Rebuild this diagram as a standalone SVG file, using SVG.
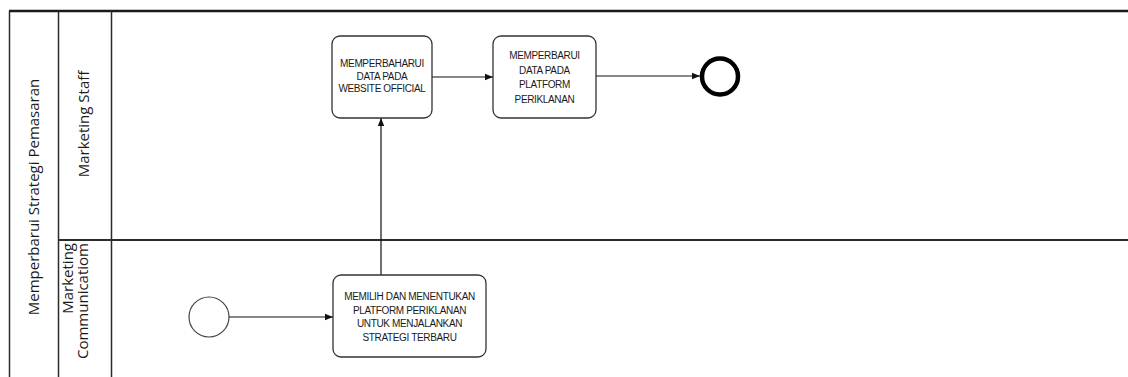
<svg xmlns="http://www.w3.org/2000/svg" width="1128" height="377" viewBox="0 0 1128 377">
<style>
.pool{fill:none;stroke:#2b2b2b;stroke-width:1.5}
.lbl{font-family:"Open Sans","Noto Sans",sans-serif;font-size:15px;fill:#1a1a1a}
.task rect{fill:#fff;stroke:#333;stroke-width:1.3}
.task text{font-family:"Liberation Sans",Arial,sans-serif;font-size:10px;fill:#1a1a1a;text-anchor:middle;letter-spacing:-0.35px}
.edge{fill:none;stroke:#111;stroke-width:1.2;marker-end:url(#arr)}
</style>
<defs>
<marker id="arr" viewBox="0 0 8 8" refX="8" refY="4" markerWidth="8" markerHeight="8" markerUnits="userSpaceOnUse" orient="auto">
<path d="M0,0.8 L8,4 L0,7.2 Z" fill="#111"/>
</marker>
</defs>
<rect width="1128" height="377" fill="#fff"/>
<g id="pool">
<line x1="9" y1="11" x2="1128" y2="11" stroke="#1a1a1a" stroke-width="2.5"/>
<line class="pool" x1="9.5" y1="11" x2="9.5" y2="377"/>
<line class="pool" x1="58.5" y1="11" x2="58.5" y2="377"/>
<line class="pool" x1="111.5" y1="11" x2="111.5" y2="377"/>
<line x1="58" y1="240" x2="1128" y2="240" stroke="#2b2b2b" stroke-width="1.8"/>
<text class="lbl" text-anchor="middle" transform="translate(39,197) rotate(-90)">Memperbarui Strategi Pemasaran</text>
</g>
<g id="lane-staff">
<text class="lbl" text-anchor="middle" transform="translate(89,124) rotate(-90)">Marketing Staff</text>
</g>
<g id="lane-comm">
<text class="lbl" text-anchor="end" transform="translate(73,243) rotate(-90)">Marketing</text>
<text class="lbl" text-anchor="end" transform="translate(88,243) rotate(-90)">Communicatiom</text>
</g>
<g id="connectors">
<line class="edge" x1="229" y1="317" x2="333" y2="317"/>
<line class="edge" x1="381" y1="275" x2="381" y2="118"/>
<line class="edge" x1="432" y1="77" x2="493" y2="77"/>
<line class="edge" x1="596" y1="76" x2="700" y2="76"/>
</g>
<g id="start">
<circle cx="209" cy="317" r="20" fill="#fff" stroke="#444" stroke-width="1.2"/>
</g>
<g id="task-website" class="task">
<rect x="332" y="36" width="100" height="82" rx="8"/>
<text x="382" y="67">MEMPERBAHARUI</text>
<text x="382" y="79.5">DATA PADA</text>
<text x="382" y="92">WEBSITE OFFICIAL</text>
</g>
<g id="task-platform" class="task">
<rect x="493" y="36" width="103" height="82" rx="8"/>
<text x="544.5" y="59">MEMPERBARUI</text>
<text x="544.5" y="73.5">DATA PADA</text>
<text x="544.5" y="88">PLATFORM</text>
<text x="544.5" y="102.5">PERIKLANAN</text>
</g>
<g id="task-memilih" class="task">
<rect x="333" y="275" width="153" height="82" rx="8"/>
<text x="409.5" y="300">MEMILIH DAN MENENTUKAN</text>
<text x="409.5" y="313.5">PLATFORM PERIKLANAN</text>
<text x="409.5" y="327">UNTUK MENJALANKAN</text>
<text x="409.5" y="340.5">STRATEGI TERBARU</text>
</g>
<g id="end">
<circle cx="720" cy="76.5" r="18" fill="#fff" stroke="#000" stroke-width="4.5"/>
</g>
</svg>
